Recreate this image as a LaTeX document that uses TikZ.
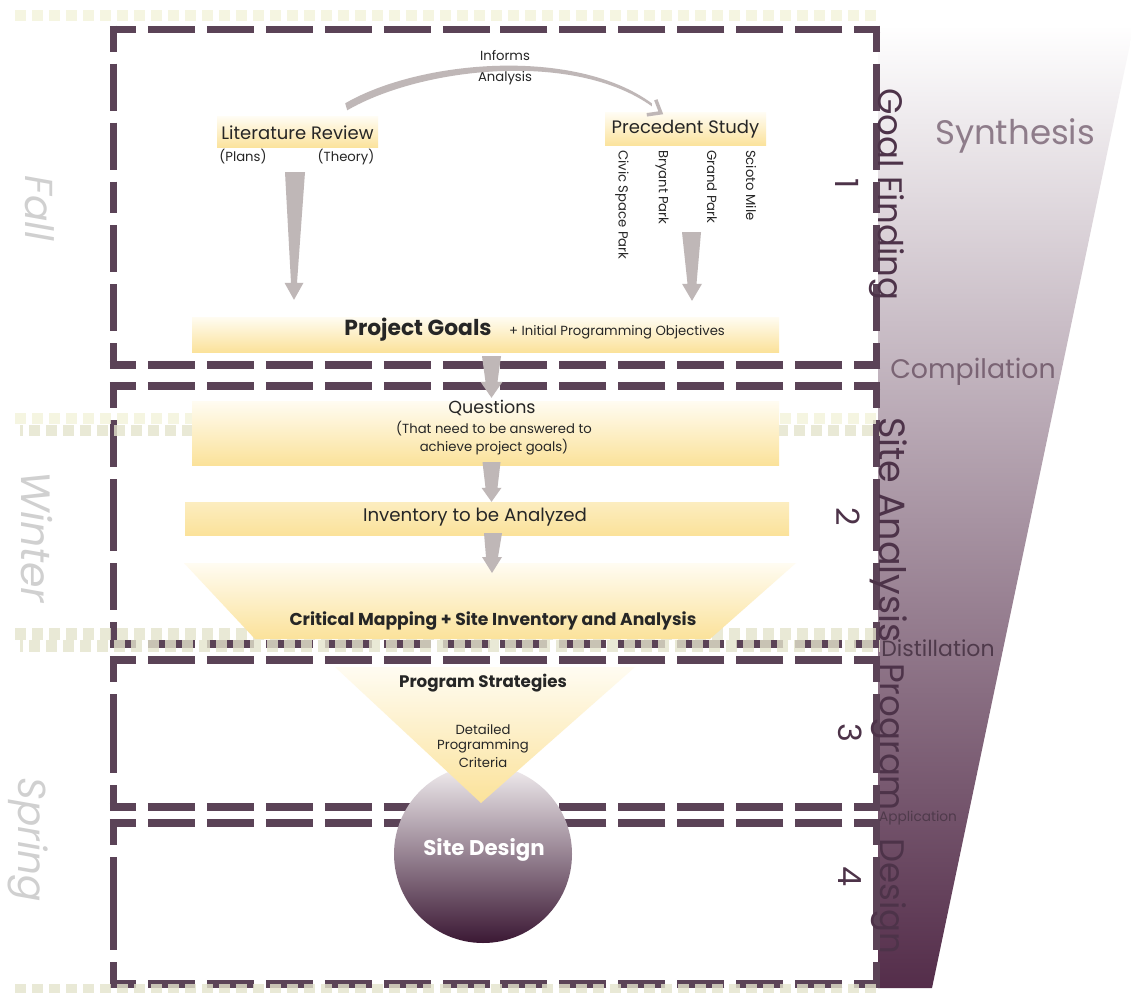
\documentclass[tikz,border=0pt]{standalone}
\usepackage{fontspec}
\setmainfont{Poppins}
\usetikzlibrary{calc}
\definecolor{boxpurple}{HTML}{5B4357}
\definecolor{labelpurple}{HTML}{4D3349}
\definecolor{arrowgray}{HTML}{BFB7B7}
\definecolor{goldbot}{HTML}{FBE29A}
\definecolor{goldtop}{HTML}{FFFCF2}
\definecolor{goldtopB}{HTML}{FCEDC0}
\definecolor{bandA}{HTML}{F3F3DA}
\definecolor{bandB}{HTML}{E4E4CC}
\definecolor{seasongray}{HTML}{D0D0D0}
\definecolor{funneldark}{HTML}{542D4A}
\definecolor{funnelmid}{HTML}{A58F9E}
\definecolor{circtop}{HTML}{F2EEF0}
\definecolor{circmid}{HTML}{8A7283}
\definecolor{circbot}{HTML}{3B1834}
\definecolor{textdark}{HTML}{262626}
\definecolor{synthc}{HTML}{8E7C8A}
\definecolor{compc}{HTML}{7A6474}
\definecolor{distc}{HTML}{4F3A4B}
\newcommand\fsz[1]{\fontsize{#1}{#1}\selectfont}
\tikzset{
  boxline/.style={draw=boxpurple, line width=7.5pt, dash pattern=on 47pt off 12pt, dash phase=21pt, shorten <=-3.75pt},
  bandline/.style={line width=11.5pt, dash pattern=on 11pt off 6pt, opacity=0.8},
  goldbox/.style={top color=goldtop, bottom color=goldbot, draw=none, inner sep=0pt},
  txt/.style={inner sep=0pt, text=textdark},
  small/.style={txt, font=\fsz{13.2}},
  seclabel/.style={rotate=-90, anchor=base west, inner sep=0pt, text=labelpurple, font=\fsz{34}},
  numlabel/.style={rotate=-90, inner sep=0pt, text=labelpurple, font=\fsz{32}},
  season/.style={rotate=-90, inner sep=0pt, text=seasongray, font=\fsz{40}\itshape},
}
\newcommand\dbox[4]{%
  \draw[boxline] (#1,#2) -- ({(#1+#3)/2},#2);
  \draw[boxline] (#3,#2) -- ({(#1+#3)/2},#2);
  \draw[boxline] (#1,#4) -- ({(#1+#3)/2},#4);
  \draw[boxline] (#3,#4) -- ({(#1+#3)/2},#4);
  \draw[boxline] (#1,#2) -- (#1,{(#2+#4)/2});
  \draw[boxline] (#1,#4) -- (#1,{(#2+#4)/2});
  \draw[boxline] (#3,#2) -- (#3,{(#2+#4)/2});
  \draw[boxline] (#3,#4) -- (#3,{(#2+#4)/2});
}
\newcommand\tarrow[6]{%
  \fill[arrowgray] let \p1=(#1), \p2=(#2) in
    (\x1-#3,\y1) -- (\x1+#3,\y1) -- (\x2+#4,\y2+#6) -- (\x2+#5,\y2+#6) -- (\x2,\y2)
    -- (\x2-#5,\y2+#6) -- (\x2-#4,\y2+#6) -- cycle;}
\begin{document}
\begin{tikzpicture}[x=1pt,y=-1pt]
\useasboundingbox (0,0) rectangle (1131,992);
\fill[white] (0,0) rectangle (1131,992);
% funnel
\shade[top color=white, middle color=funnelmid, bottom color=funneldark]
  (878,25) -- (1134,25) -- (932,988) -- (878,988) -- cycle;
% dashed section boxes
\dbox{113.5}{29.5}{876.5}{365}
\dbox{113.5}{386}{876.5}{644}
\dbox{113.5}{660}{876.5}{807}
\dbox{113.5}{823}{876.5}{984}
% season bands
\draw[bandline, draw=bandA] (15,15.5) -- (876,15.5);
\draw[bandline, draw=bandA] (15,418.5) -- (880,418.5);
\draw[bandline, draw=bandB, dash phase=8pt] (20,430.5) -- (880,430.5);
\draw[bandline, draw=bandB] (15,634) -- (880,634);
\draw[bandline, draw=bandB, dash phase=8pt] (20,646) -- (880,646);
\draw[bandline, draw=bandB] (15,990) -- (880,990);
% boxes
\node[goldbox, minimum width=161pt, minimum height=31pt, font=\fsz{18}, text=textdark] (lit) at (297.5,132.5) {Literature Review};
\node[small] (plans) at (243,157) {(Plans)};
\node[small] (theory) at (346,157) {(Theory)};
\node[goldbox, minimum width=161pt, minimum height=33pt, font=\fsz{18}, text=textdark] (prec) at (685.5,129.5) {Precedent Study};
\node[small, rotate=-90, anchor=west] (civic) at (622,150) {Civic Space Park};
\node[small, rotate=-90, anchor=west] (bryant) at (662,150) {Bryant Park};
\node[small, rotate=-90, anchor=west] (grand) at (712,150) {Grand Park};
\node[small, rotate=-90, anchor=west] (scioto) at (751,150) {Scioto Mile};
\node[small] (informs) at (505,56) {Informs};
\node[small] (analysis) at (505,78) {Analysis};
% informs arc
\coordinate (arcS) at ($(lit.north east)+(-33,-10)$);
\coordinate (arcE) at ($(prec.north west)+(47,-8)$);
\fill[arrowgray] ($(arcS)+(0,-3.5)$) .. controls ($(arcS)+(75,-47)$) and ($(arcE)+(-77,-58)$) .. ($(arcE)+(0,-1.5)$)
  -- ($(arcE)+(0,1.5)$) .. controls ($(arcE)+(-77,-54)$) and ($(arcS)+(77,-40)$) .. ($(arcS)+(2,3.5)$) -- cycle;
\draw[arrowgray, line width=3.5pt] ($(arcE)+(4,-5)$) -- ($(arcE)+(9,8)$) -- ($(arcE)+(-5,10)$);
% project goals
\node[goldbox, minimum width=587pt, minimum height=35pt] (pg) at (485.5,334.5) {};
\node[txt, font=\fsz{21.8}\bfseries] (pgt) at (418,330) {Project Goals};
\node[small] (pgs) at (617,332) {+ Initial Programming Objectives};
% questions
\node[goldbox, minimum width=587pt, minimum height=64pt] (q) at (485.5,433) {};
\node[txt, font=\fsz{17.5}] (qt) at (492,408) {Questions};
\node[small] (qs1) at (494,429) {(That need to be answered to};
\node[small] (qs2) at (494,447) {achieve project goals)};
% inventory
\node[goldbox, top color=goldtopB, minimum width=604pt, minimum height=33pt] (inv) at (487,518.5) {};
\node[txt, font=\fsz{18.2}] (invt) at (475,517) {Inventory to be Analyzed};
% critical mapping
\shade[top color=goldtop, bottom color=goldbot] (184,563) -- (796,563) -- (710,639) -- (255,639) -- cycle;
\coordinate (crit) at (492,563);
\node[txt, font=\fsz{17.2}\bfseries] (critt) at (493,621) {Critical Mapping + Site Inventory and Analysis};
% site design circle
\node[circle, minimum size=178pt, inner sep=0pt, top color=circtop, middle color=circmid, bottom color=circbot] (sd) at (483,854) {};
% program strategies triangle
\shade[top color=goldtop, bottom color=goldbot] (335,667) -- (635,667) -- (481,803) -- cycle;
\node[txt, font=\fsz{16.7}\bfseries] (pst) at (483,683) {Program Strategies};
\node[small] (ps1) at (483,730) {Detailed};
\node[small] (ps2) at (483,746) {Programming};
\node[small] (ps3) at (483,763) {Criteria};
\node[inner sep=0pt, text=white, font=\fsz{21.3}\bfseries] (sdt) at (484,850) {Site Design};
% tapered arrows
\coordinate (la) at ($(lit.south)+(-2.5,24)$);
\coordinate (lb) at ($(la |- pg.north)+(-1,-17)$);
\tarrow{la}{lb}{10pt}{3pt}{9.5pt}{17pt}
\coordinate (pa) at ($(prec.south)+(6,86)$);
\coordinate (pb) at ($(pa |- pg.north)+(0.5,-16)$);
\tarrow{pa}{pb}{9.5pt}{4.5pt}{10pt}{17pt}
\coordinate (ga) at ($(pg.south)+(6,4)$);
\coordinate (gb) at ($(ga |- q.north)+(0,-3)$);
\tarrow{ga}{gb}{9.5pt}{6pt}{11pt}{16pt}
\coordinate (qa) at ($(q.south)+(6,-3)$);
\coordinate (qb) at ($(qa |- inv.north)$);
\tarrow{qa}{qb}{9pt}{6pt}{10pt}{14pt}
\coordinate (ia) at ($(inv.south)+(6,-2)$);
\coordinate (ib) at ($(crit)+(0,10)$);
\tarrow{ia}{ib}{9pt}{6pt}{10pt}{16pt}
% section labels
\node[seclabel] (gf) at (878,88) {Goal Finding};
\node[seclabel, font=\fsz{36.5}] (sa) at (879,417) {Site Analysis};
\node[seclabel] (pr) at (880,663) {Program};
\node[seclabel] (de) at (880,838) {Design};
\node[numlabel] (n1) at (847,184) {1};
\node[numlabel] (n2) at (848,517) {2};
\node[numlabel] (n3) at (850,733) {3};
\node[numlabel] (n4) at (850,877) {4};
% funnel labels
\node[inner sep=0pt, text=synthc, font=\fsz{34}] (syn) at (1015,136) {Synthesis};
\node[inner sep=0pt, text=compc, font=\fsz{26.8}] (comp) at (973,372) {Compilation};
\node[inner sep=0pt, text=distc, font=\fsz{22}] (dist) at (938,648) {Distillation};
\node[inner sep=0pt, text=distc, font=\fsz{13.7}] (appl) at (918,818) {Application};
% seasons
\node[season, font=\fsz{39}\itshape] (fall) at (40,208) {Fall};
\node[season, font=\fsz{41}\itshape] (winter) at (37,537) {Winter};
\node[season, font=\fsz{39}\itshape] (spring) at (28,840) {Spring};
\end{tikzpicture}
\end{document}
